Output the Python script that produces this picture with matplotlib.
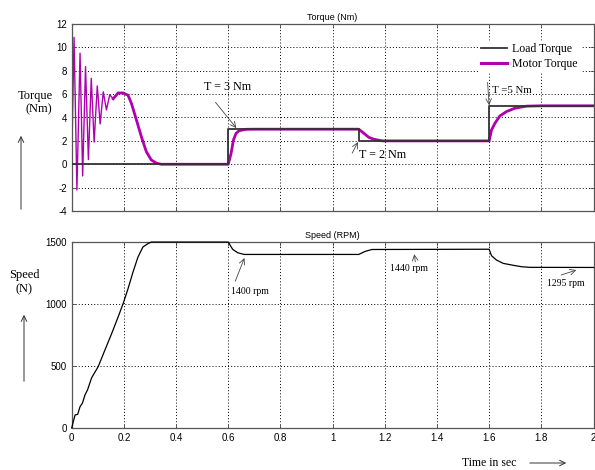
import numpy as np
import matplotlib.pyplot as plt

plt.rcParams['axes.unicode_minus'] = False

# Load torque steps (Nm)
load_t = [0.0, 0.6, 0.6, 1.1, 1.1, 1.6, 1.6, 2.0]
load_T = [0.0, 0.0, 3.0, 3.0, 2.0, 2.0, 5.0, 5.0]

# Motor electromagnetic torque (Nm)
motor_t = [0.0, 0.009, 0.020, 0.032, 0.042, 0.053, 0.064, 0.075, 0.086, 0.098,
           0.109, 0.121, 0.133, 0.146, 0.159, 0.178, 0.197, 0.216, 0.229, 0.248,
           0.267, 0.286, 0.305, 0.324, 0.343, 0.60, 0.611, 0.620, 0.630, 0.642,
           0.668, 0.70, 1.10, 1.12, 1.139, 1.158, 1.19, 1.60, 1.609, 1.622,
           1.641, 1.666, 1.698, 1.743, 1.80, 2.0]
motor_T = [0.3, 10.85, -2.2, 9.5, -1.0, 8.35, 0.4, 7.35, 1.9, 6.7,
           3.45, 6.2, 4.65, 5.95, 5.6, 6.1, 6.1, 5.9, 5.2, 3.8,
           2.36, 1.08, 0.37, 0.1, 0.0, 0.0, 0.94, 2.08, 2.65, 2.87,
           2.99, 3.0, 3.0, 2.65, 2.3, 2.14, 2.0, 2.0, 2.93, 3.5,
           4.13, 4.5, 4.79, 4.97, 5.0, 5.0]

# Rotor speed (rpm)
speed_t = [0.0, 0.006, 0.013, 0.023, 0.032, 0.041, 0.051, 0.061, 0.076, 0.102,
           0.127, 0.153, 0.178, 0.197, 0.216, 0.235, 0.254, 0.273, 0.292, 0.305,
           0.60, 0.617, 0.636, 0.661, 1.10, 1.125, 1.151, 1.60, 1.609, 1.628,
           1.654, 1.686, 1.724, 1.756, 2.0]
speed_N = [0, 50, 105, 110, 172, 200, 267, 309, 403, 497,
           627, 761, 896, 1003, 1124, 1258, 1379, 1460, 1487, 1500,
           1500, 1441, 1414, 1400, 1400, 1425, 1440, 1442, 1390, 1355,
           1328, 1315, 1301, 1296, 1295]

xticks = np.arange(0, 2.01, 0.2)
xlabels = ['0', '0.2', '0.4', '0.6', '0.8', '1', '1.2', '1.4', '1.6', '1.8', '2']

serif = 'Liberation Serif'
sans = 'Liberation Sans'
magenta = '#b000b0'

fig = plt.figure(figsize=(5.95, 4.70), dpi=100)
ax1 = fig.add_axes([0.1205, 0.551, 0.877, 0.398])
ax2 = fig.add_axes([0.1205, 0.0894, 0.877, 0.3956])

for ax in (ax1, ax2):
    ax.set_xlim(0, 2)
    ax.set_xticks(xticks)
    ax.grid(True, color='black', linestyle=(0, (1, 2.2)), linewidth=0.7)
    ax.tick_params(direction='in', top=True, right=True, length=3,
                   labelsize=7, width=0.6, color='#444444')
    for s in ax.spines.values():
        s.set_color('#555555')
        s.set_linewidth(0.9)

# Torque plot: thin trace for the start-up ripple, thicker once it settles
ax1.plot(load_t, load_T, color='#333333', lw=1.3, label='Load Torque', zorder=3)
ax1.plot(motor_t, motor_T, color=magenta, lw=1.0, zorder=2)
k = 14
ax1.plot(motor_t[k:], motor_T[k:], color=magenta, lw=2.0, zorder=2)
ax1.plot([], [], color=magenta, lw=2.2, label='Motor Torque')
ax1.set_ylim(-4, 12)
ax1.set_yticks(range(-4, 13, 2))
ax1.set_xticklabels([])
for lab in ax1.get_yticklabels():
    lab.set_fontfamily(sans)
ax1.set_title('Torque (Nm)', fontsize=6.5, fontfamily=sans, pad=3)
leg = ax1.legend(loc='upper right', bbox_to_anchor=(0.985, 0.94), frameon=True,
                 prop={'family': serif, 'size': 8.5}, handlelength=2.2,
                 borderpad=0.2, labelspacing=0.2, handletextpad=0.4)
leg.get_frame().set_edgecolor('white')
leg.get_frame().set_alpha(1)

ann = dict(arrowstyle='->', color='#444444', lw=0.6, shrinkA=0, shrinkB=0)
ax1.text(0.508, 6.6, 'T = 3 Nm', fontsize=8.7, fontfamily=serif, ha='left', va='center')
ax1.annotate('', xy=(0.631, 3.1), xytext=(0.551, 5.3), arrowprops=ann)
ax1.text(1.103, 0.8, 'T = 2 Nm', fontsize=8.7, fontfamily=serif, ha='left', va='center')
ax1.annotate('', xy=(1.097, 1.9), xytext=(1.075, 0.95), arrowprops=ann)
ax1.text(1.612, 6.35, 'T =5 Nm', fontsize=7.8, fontfamily=serif, ha='left', va='center')
ax1.annotate('', xy=(1.6, 5.05), xytext=(1.594, 7.0), arrowprops=ann)

# Speed plot
ax2.plot(speed_t, speed_N, color='black', lw=0.9, zorder=3, clip_on=False)
ax2.set_ylim(0, 1500)
ax2.set_yticks([0, 500, 1000, 1500])
ax2.set_xticklabels(xlabels)
for lab in ax2.get_xticklabels() + ax2.get_yticklabels():
    lab.set_fontfamily(sans)
ax2.set_title('Speed (RPM)', fontsize=6.5, fontfamily=sans, pad=3)

ax2.text(0.61, 1100, '1400 rpm', fontsize=7, fontfamily=serif, ha='left', va='center')
ax2.annotate('', xy=(0.662, 1371), xytext=(0.627, 1185), arrowprops=ann)
ax2.text(1.22, 1290, '1440 rpm', fontsize=7, fontfamily=serif, ha='left', va='center')
ax2.annotate('', xy=(1.313, 1402), xytext=(1.317, 1341), arrowprops=ann)
ax2.text(1.822, 1165, '1295 rpm', fontsize=7, fontfamily=serif, ha='left', va='center')
ax2.annotate('', xy=(1.934, 1274), xytext=(1.876, 1234), arrowprops=ann)

# Axis captions with pointing arrows
fig.text(53 / 595, 1 - 96 / 470, 'Torque', fontsize=9, fontfamily=serif,
         ha='right', va='center')
fig.text(52 / 595, 1 - 109 / 470, '(Nm)', fontsize=9, fontfamily=serif,
         ha='right', va='center')
fig.text(24 / 595, 1 - 275 / 470, 'Speed', fontsize=9, fontfamily=serif,
         ha='center', va='center')
fig.text(24 / 595, 1 - 289 / 470, '(N)', fontsize=9, fontfamily=serif,
         ha='center', va='center')
fig.text(489 / 595, 1 - 463 / 470, 'Time in sec', fontsize=8.5, fontfamily=serif,
         ha='center', va='center')

arrow = dict(arrowstyle='->', color='#333333', lw=0.7)
fig.add_artist(plt.Annotation('', xy=(21 / 595, 1 - 133 / 470), xytext=(21 / 595, 1 - 212 / 470),
                              xycoords='figure fraction', arrowprops=arrow))
fig.add_artist(plt.Annotation('', xy=(24 / 595, 1 - 312 / 470), xytext=(24 / 595, 1 - 384 / 470),
                              xycoords='figure fraction', arrowprops=arrow))
fig.add_artist(plt.Annotation('', xy=(569 / 595, 1 - 463 / 470), xytext=(527 / 595, 1 - 463 / 470),
                              xycoords='figure fraction', arrowprops=arrow))

fig.savefig('out.png', dpi=100)
